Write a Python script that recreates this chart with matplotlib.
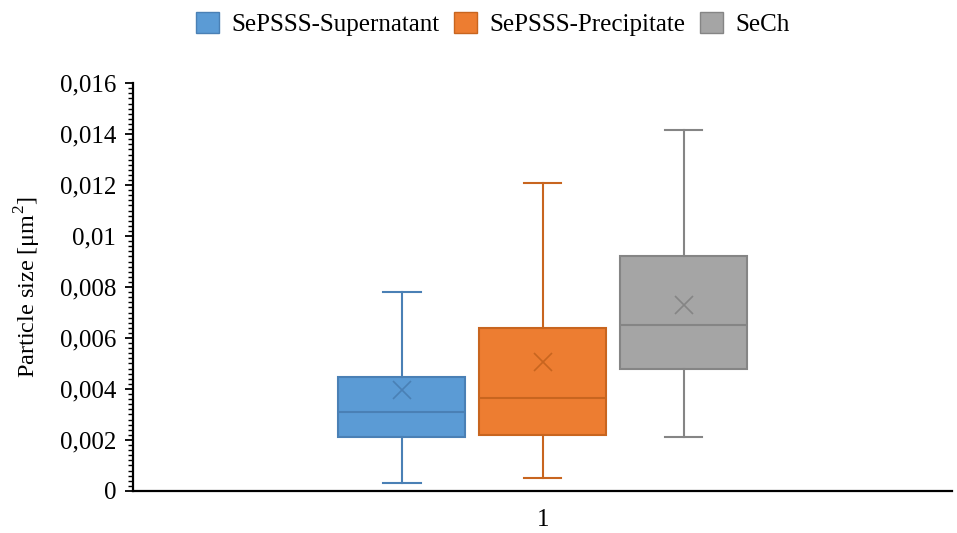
import matplotlib
matplotlib.use("Agg")
import matplotlib.pyplot as plt
from matplotlib.patches import Patch
from matplotlib.ticker import AutoMinorLocator, FuncFormatter

plt.rcParams['font.family'] = ['Liberation Serif', 'DejaVu Serif']
plt.rcParams['mathtext.fontset'] = 'custom'
plt.rcParams['mathtext.rm'] = 'Liberation Serif'

# データ (box plot statistics)
names   = ["SePSSS-Supernatant", "SePSSS-Precipitate", "SeCh"]
whislo  = [0.0003, 0.0005, 0.0021]
q1      = [0.0021, 0.0022, 0.0048]
median  = [0.0031, 0.00365, 0.0065]
q3      = [0.00447, 0.0064, 0.0092]
whishi  = [0.0078, 0.0121, 0.01416]
means   = [0.00396, 0.00506, 0.0073]

fills   = ["#5B9BD5", "#ED7D31", "#A5A5A5"]
edges   = ["#4A80B5", "#C8651F", "#858585"]

fig = plt.figure(figsize=(9.57, 5.33), dpi=100)
ax = fig.add_axes([0.139, 0.079, 0.856, 0.765])

for i in range(3):
    stats = [dict(med=median[i], q1=q1[i], q3=q3[i], whislo=whislo[i],
                  whishi=whishi[i], mean=means[i], fliers=[])]
    pos = 0.5 + (i - 1) * 0.172
    ax.bxp(stats, positions=[pos], widths=0.155, patch_artist=True,
           showmeans=True,
           boxprops=dict(facecolor=fills[i], edgecolor=edges[i], linewidth=1.5),
           medianprops=dict(color=edges[i], linewidth=1.5),
           whiskerprops=dict(color=edges[i], linewidth=1.5),
           capprops=dict(color=edges[i], linewidth=1.5),
           capwidths=0.046,
           meanprops=dict(marker='x', markersize=13, markeredgecolor=edges[i],
                          markeredgewidth=1.2))

ax.set_xlim(0, 1)
ax.set_ylim(0, 0.016)
ax.set_yticks([0, 0.002, 0.004, 0.006, 0.008, 0.01, 0.012, 0.014, 0.016])
ax.yaxis.set_major_formatter(FuncFormatter(lambda v, p: ("%g" % round(v, 4)).replace(".", ",")))
ax.yaxis.set_minor_locator(AutoMinorLocator(10))
ax.set_xticks([0.5])
ax.set_xticklabels(["1"])
ax.tick_params(axis='x', length=0, labelsize=18, pad=13)
ax.tick_params(axis='y', which='major', direction='out', length=6, width=1.3, labelsize=18, pad=6)
ax.tick_params(axis='y', which='minor', direction='out', length=3.5, width=1.0)
for s in ['top', 'right']:
    ax.spines[s].set_visible(False)
for s in ['left', 'bottom']:
    ax.spines[s].set_linewidth(1.6)
    ax.spines[s].set_color('black')
ax.set_ylabel("Particle size [μm$^2$]", fontsize=17.5, labelpad=12)

handles = [Patch(facecolor=fills[i], edgecolor=edges[i], label=names[i]) for i in range(3)]
fig.legend(handles=handles, loc='upper center', bbox_to_anchor=(0.515, 1.02), ncol=3,
           frameon=False, fontsize=18, handlelength=0.9, handleheight=0.9,
           handletextpad=0.5, columnspacing=0.6)

plt.savefig("out.png", dpi=100)
